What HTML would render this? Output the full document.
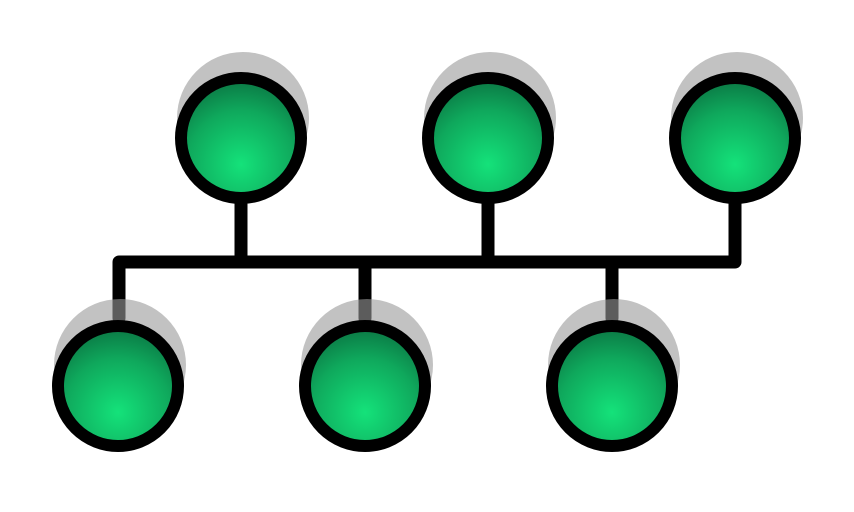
<!DOCTYPE html>
<html><head><style>html,body{margin:0;padding:0;background:#fff}svg{display:block}</style></head>
<body>
<svg width="854" height="512" viewBox="0 0 854 512" xmlns="http://www.w3.org/2000/svg">
<defs>
<radialGradient id="g" cx="0.5" cy="0.72" r="0.75" fx="0.5" fy="0.72">
<stop offset="0" stop-color="#14e27a"/>
<stop offset="0.6" stop-color="#0fa85c"/>
<stop offset="1" stop-color="#0a7040"/>
</radialGradient>
</defs>
<g stroke="#000" stroke-width="13" fill="none" stroke-linejoin="round" stroke-linecap="round">
<path d="M119 318 V262 H735 V204"/>
<path d="M241 204 V262 M488 204 V262 M365 262 V318 M612 262 V318"/>
</g>
<g fill="#999" opacity="0.6">
<circle cx="243" cy="118" r="66"/>
<circle cx="490" cy="118" r="66"/>
<circle cx="737" cy="118" r="66"/>
<circle cx="120" cy="365" r="66"/>
<circle cx="367" cy="365" r="66"/>
<circle cx="614" cy="365" r="66"/>
</g>
<g fill="url(#g)" stroke="#000" stroke-width="12">
<circle cx="241" cy="138" r="60"/>
<circle cx="488" cy="138" r="60"/>
<circle cx="735" cy="138" r="60"/>
<circle cx="118" cy="386" r="60"/>
<circle cx="365" cy="386" r="60"/>
<circle cx="612" cy="386" r="60"/>
</g>
</svg>
</body></html>
